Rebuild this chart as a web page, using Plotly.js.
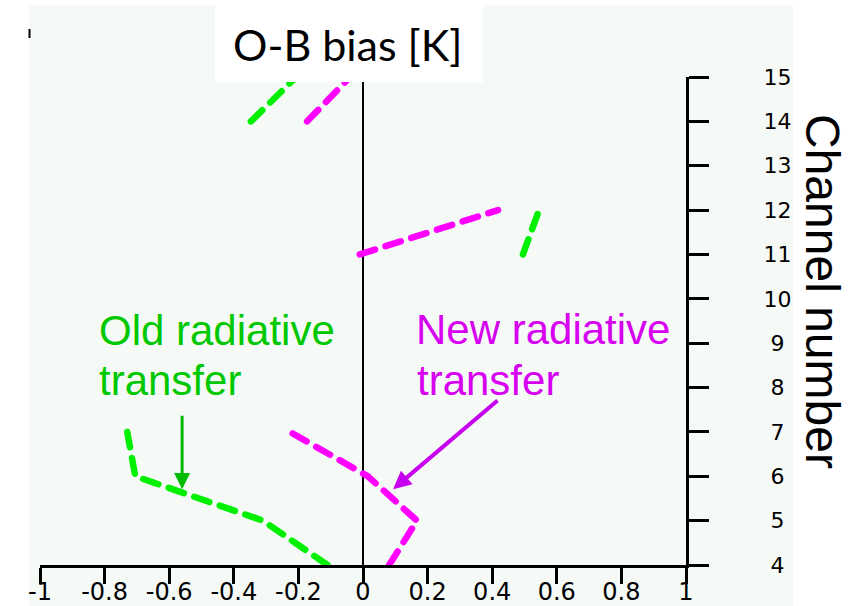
<!DOCTYPE html>
<html>
<head>
<meta charset="utf-8">
<script src="https://cdn.plot.ly/plotly-3.0.1.min.js"></script>
<style>
  html, body { margin: 0; padding: 0; background: #ffffff; }
  #chart { width: 866px; height: 606px; }
  /* rounded dash ends on the profile lines */
  .scatterlayer .js-line { stroke-linecap: round; }
</style>
</head>
<body>
<div id="chart"></div>
<script>
// Channel numbers on the vertical axis
const channels = [4, 5, 6, 7, 8, 9, 10, 11, 12, 13, 14, 15];

// Mean O-B bias per channel [K]; null = channel not shown
const oldBias = [-0.11, -0.31, -0.705, -0.73, null, null, null, 0.495, 0.545, null, -0.347, -0.207];
const newBias = [0.081, 0.167, 0.015, -0.226, null, null, null, -0.01, 0.418, null, -0.173, -0.04];

// Axis ticks
const xTicks = [-1, -0.8, -0.6, -0.4, -0.2, 0, 0.2, 0.4, 0.6, 0.8, 1];
const xTickText = ['-1', '-0.8', '-0.6', '-0.4', '-0.2', '0', '0.2', '0.4', '0.6', '0.8', '1'];
const yTicks = channels;
// punctuation space keeps one-digit labels centred under the two-digit ones
const yTickText = yTicks.map(c => (c < 10 ? '\u2008' : '') + c);

// Figure geometry
const W = 866, H = 606;
const M = { l: 40, r: 180, t: 77, b: 41 };
const PW = W - M.l - M.r, PH = H - M.t - M.b;
const px = x => (x - M.l) / PW;   // pixel column -> paper x
const py = y => (H - M.b - y) / PH; // pixel row -> paper y

const GREEN = '#00f000', MAGENTA = '#ff00ff';
const GREEN_TXT = '#00c800', MAGENTA_TXT = '#d800f0', MAGENTA_ARROW = '#c800f0';
const labelFont = { family: 'Liberation Sans, Arial, sans-serif', size: 42 };
const DASH = '16px,11px';

const traces = [
  {
    x: oldBias, y: channels, type: 'scatter', mode: 'lines',
    connectgaps: false, hoverinfo: 'skip',
    line: { color: GREEN, width: 6.5, dash: DASH }
  },
  {
    x: newBias, y: channels, type: 'scatter', mode: 'lines',
    connectgaps: false, hoverinfo: 'skip',
    line: { color: MAGENTA, width: 6.5, dash: DASH }
  }
];

const layout = {
  width: W, height: H,
  margin: M,
  paper_bgcolor: '#ffffff',
  plot_bgcolor: 'rgba(0,0,0,0)',
  showlegend: false,
  xaxis: {
    range: [-1, 1], fixedrange: true,
    tickmode: 'array', tickvals: xTicks, ticktext: xTickText,
    ticks: 'outside', ticklen: 16, tickwidth: 3, tickcolor: '#000',
    ticklabelstandoff: -13,
    showline: true, linewidth: 3, linecolor: '#000',
    showgrid: false,
    zeroline: true, zerolinecolor: '#000', zerolinewidth: 2.7,
    tickfont: { family: 'DejaVu Sans, sans-serif', size: 24, color: '#000' }
  },
  yaxis: {
    range: [4, 15], fixedrange: true, side: 'right',
    tickmode: 'array', tickvals: yTicks, ticktext: yTickText,
    ticks: 'outside', ticklen: 20, tickwidth: 3, tickcolor: '#000',
    ticklabelstandoff: 50,
    showline: true, linewidth: 3, linecolor: '#000',
    showgrid: false, zeroline: false,
    tickfont: { family: 'DejaVu Sans, sans-serif', size: 22, color: '#000' }
  },
  shapes: [
    // pale panel behind the plot
    { type: 'rect', xref: 'paper', yref: 'paper', layer: 'below',
      x0: px(29), x1: px(793), y0: py(606), y1: py(5),
      fillcolor: '#f5faf7', line: { width: 0 } },
    // white box carrying the heading
    { type: 'rect', xref: 'paper', yref: 'paper', layer: 'above',
      x0: px(215), x1: px(483), y0: py(82), y1: py(0),
      fillcolor: '#ffffff', line: { width: 0 } },
    // small mark at the panel's top-left
    { type: 'line', xref: 'paper', yref: 'paper', layer: 'above',
      x0: px(29.5), x1: px(29.5), y0: py(38), y1: py(29),
      line: { color: '#000', width: 2 } }
  ],
  annotations: [
    { text: 'O-B bias [K]', xref: 'paper', yref: 'paper',
      x: px(347), y: py(45), xanchor: 'center', yanchor: 'middle', showarrow: false,
      font: { family: 'Lato, Noto Sans, sans-serif', size: 43, color: '#000' } },
    { text: 'Channel number', xref: 'paper', yref: 'paper',
      x: px(823), y: py(291), xanchor: 'center', yanchor: 'middle', showarrow: false,
      textangle: 90,
      font: { family: 'Liberation Sans, Arial, sans-serif', size: 48, color: '#000' } },
    { text: 'Old radiative', xref: 'paper', yref: 'paper',
      x: px(97), y: py(330), xanchor: 'left', yanchor: 'middle', showarrow: false,
      font: Object.assign({ color: GREEN_TXT }, labelFont) },
    { text: 'transfer', xref: 'paper', yref: 'paper',
      x: px(97), y: py(380), xanchor: 'left', yanchor: 'middle', showarrow: false,
      font: Object.assign({ color: GREEN_TXT }, labelFont) },
    { text: 'New radiative', xref: 'paper', yref: 'paper',
      x: px(414), y: py(329), xanchor: 'left', yanchor: 'middle', showarrow: false,
      font: Object.assign({ color: MAGENTA_TXT }, labelFont) },
    { text: 'transfer', xref: 'paper', yref: 'paper',
      x: px(415), y: py(380), xanchor: 'left', yanchor: 'middle', showarrow: false,
      font: Object.assign({ color: MAGENTA_TXT }, labelFont) },
    // pointers from the labels to the profiles
    { text: '', xref: 'x', yref: 'y', x: -0.56, y: 5.71,
      showarrow: true, arrowhead: 2, arrowsize: 1.07, arrowwidth: 3,
      arrowcolor: '#00bb00', ax: 0, ay: -75, standoff: 0 },
    { text: '', xref: 'x', yref: 'y', x: 0.093, y: 5.71,
      showarrow: true, arrowhead: 2, arrowsize: 0.9, arrowwidth: 4,
      arrowcolor: MAGENTA_ARROW, ax: 106, ay: -90, standoff: 0 }
  ]
};

Plotly.newPlot('chart', traces, layout, { staticPlot: true, displayModeBar: false })
  .then(gd => {
    gd.querySelectorAll('.scatterlayer .js-line').forEach(p => {
      p.style.strokeLinecap = 'round';
    });
  });
</script>
</body>
</html>
